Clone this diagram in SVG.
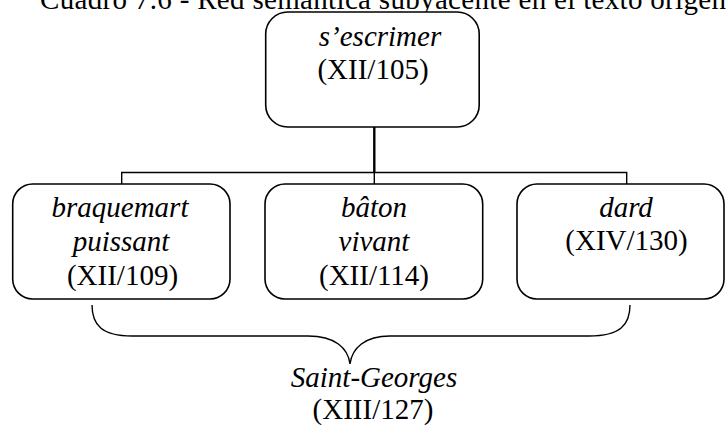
<svg xmlns="http://www.w3.org/2000/svg" width="726" height="432" viewBox="0 0 726 432">
<style>
text{font-family:"Liberation Serif","Times New Roman",serif;font-size:29px;fill:#000;text-anchor:middle}
.i{font-style:italic}
.box{fill:#fff;stroke:#000;stroke-width:1.6}
.ln{fill:none;stroke:#000;stroke-width:1.4}
</style>
<rect width="726" height="432" fill="#fff"/>
<text x="40" y="9" textLength="686" style="text-anchor:start">Cuadro 7.6 - Red semántica subyacente en el texto origen</text>
<g id="connectors">
<line class="ln" x1="374.3" y1="127" x2="374.3" y2="172.5" style="stroke-width:2.4"/>
<polyline class="ln" points="121.7,184 121.7,172.5 626.7,172.5 626.7,184"/>
<line class="ln" x1="374.3" y1="172.5" x2="374.3" y2="184"/>
<path class="ln" d="M92,305 C92,325 102,336 132,336 L308,336 C335,336 348,348 350,364 C352,348 365,336 390,336 L589,336 C620,336 630,325 630,305"/>
</g>
<g id="n-escrimer">
<rect class="box" x="265.7" y="12" width="213.5" height="115" rx="22"/>
<text class="i" x="380" y="45.5">s’escrimer</text>
<text x="373" y="79">(XII/105)</text>
</g>
<g id="n-braquemart">
<rect class="box" x="12.7" y="184" width="217.3" height="115" rx="20"/>
<text class="i" x="120" y="217">braquemart</text>
<text class="i" x="121" y="251">puissant</text>
<text x="122.5" y="285">(XII/109)</text>
</g>
<g id="n-baton">
<rect class="box" x="265" y="184" width="217.7" height="115" rx="20"/>
<text class="i" x="374" y="217">bâton</text>
<text class="i" x="374" y="251">vivant</text>
<text x="374" y="285">(XII/114)</text>
</g>
<g id="n-dard">
<rect class="box" x="517" y="184" width="207" height="115" rx="20"/>
<text class="i" x="626" y="217">dard</text>
<text x="626.5" y="250">(XIV/130)</text>
</g>
<g id="n-saint-georges">
<text class="i" x="374" y="387">Saint-Georges</text>
<text x="373" y="419">(XIII/127)</text>
</g>
</svg>
